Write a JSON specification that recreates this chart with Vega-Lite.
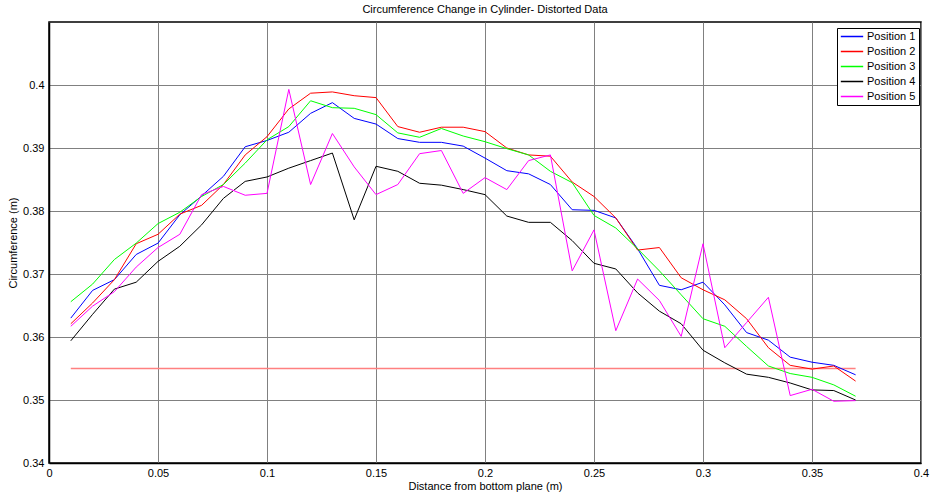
{
  "$schema": "https://vega.github.io/schema/vega-lite/v6.json",
  "width": 872,
  "height": 441,
  "autosize": {"type": "none"},
  "padding": {"left": 49, "top": 22, "right": 10, "bottom": 32},
  "background": "white",
  "title": {"text": "Circumference Change in Cylinder- Distorted Data", "font": "Liberation Sans", "fontSize": 11, "fontWeight": "normal", "color": "#000", "offset": 7, "anchor": "middle"},
  "config": {
    "view": {"stroke": "#000", "strokeWidth": 1.5},
    "font": "Liberation Sans",
    "axis": {"domainColor": "#000", "domainWidth": 1.5, "gridColor": "#808080", "gridOpacity": 1, "gridWidth": 1, "ticks": false, "labelFont": "Liberation Sans", "labelFontSize": 11, "labelColor": "#000", "titleFont": "Liberation Sans", "titleFontSize": 11, "titleFontWeight": "normal", "titleColor": "#000"},
    "legend": {"orient": "none", "legendX": 788, "legendY": 6, "fillColor": "white", "strokeColor": "#000", "strokeWidth": 1, "cornerRadius": 0, "padding": 3, "symbolType": "stroke", "symbolSize": 500, "symbolStrokeWidth": 1.5, "clipHeight": 11, "rowPadding": 3, "labelFont": "Liberation Sans", "labelFontSize": 11, "labelColor": "#000", "labelOffset": 3}
  },
  "datasets": {
    "ref": [{"d": 0.01, "c": 0.355}, {"d": 0.37, "c": 0.355}],
    "series": [
      {"p":"Position 1","d":0.01,"c":0.3630},{"p":"Position 1","d":0.02,"c":0.3674},{"p":"Position 1","d":0.03,"c":0.3691},{"p":"Position 1","d":0.04,"c":0.3731},{"p":"Position 1","d":0.05,"c":0.3749},{"p":"Position 1","d":0.06,"c":0.3794},{"p":"Position 1","d":0.07,"c":0.3824},{"p":"Position 1","d":0.08,"c":0.3855},{"p":"Position 1","d":0.09,"c":0.3902},{"p":"Position 1","d":0.10,"c":0.3912},{"p":"Position 1","d":0.11,"c":0.3925},{"p":"Position 1","d":0.12,"c":0.3955},{"p":"Position 1","d":0.13,"c":0.3972},{"p":"Position 1","d":0.14,"c":0.3947},{"p":"Position 1","d":0.15,"c":0.3938},{"p":"Position 1","d":0.16,"c":0.3915},{"p":"Position 1","d":0.17,"c":0.3909},{"p":"Position 1","d":0.18,"c":0.3909},{"p":"Position 1","d":0.19,"c":0.3903},{"p":"Position 1","d":0.20,"c":0.3884},{"p":"Position 1","d":0.21,"c":0.3864},{"p":"Position 1","d":0.22,"c":0.3859},{"p":"Position 1","d":0.23,"c":0.3842},{"p":"Position 1","d":0.24,"c":0.3802},{"p":"Position 1","d":0.25,"c":0.3801},{"p":"Position 1","d":0.26,"c":0.3789},{"p":"Position 1","d":0.27,"c":0.3740},{"p":"Position 1","d":0.28,"c":0.3682},{"p":"Position 1","d":0.29,"c":0.3675},{"p":"Position 1","d":0.30,"c":0.3687},{"p":"Position 1","d":0.31,"c":0.3651},{"p":"Position 1","d":0.32,"c":0.3607},{"p":"Position 1","d":0.33,"c":0.3595},{"p":"Position 1","d":0.34,"c":0.3568},{"p":"Position 1","d":0.35,"c":0.3560},{"p":"Position 1","d":0.36,"c":0.3555},{"p":"Position 1","d":0.37,"c":0.3540},
      {"p":"Position 2","d":0.01,"c":0.3621},{"p":"Position 2","d":0.02,"c":0.3654},{"p":"Position 2","d":0.03,"c":0.3691},{"p":"Position 2","d":0.04,"c":0.3748},{"p":"Position 2","d":0.05,"c":0.3763},{"p":"Position 2","d":0.06,"c":0.3795},{"p":"Position 2","d":0.07,"c":0.3809},{"p":"Position 2","d":0.08,"c":0.3842},{"p":"Position 2","d":0.09,"c":0.3889},{"p":"Position 2","d":0.10,"c":0.3918},{"p":"Position 2","d":0.11,"c":0.3962},{"p":"Position 2","d":0.12,"c":0.3987},{"p":"Position 2","d":0.13,"c":0.3989},{"p":"Position 2","d":0.14,"c":0.3983},{"p":"Position 2","d":0.15,"c":0.3980},{"p":"Position 2","d":0.16,"c":0.3934},{"p":"Position 2","d":0.17,"c":0.3925},{"p":"Position 2","d":0.18,"c":0.3933},{"p":"Position 2","d":0.19,"c":0.3933},{"p":"Position 2","d":0.20,"c":0.3926},{"p":"Position 2","d":0.21,"c":0.3900},{"p":"Position 2","d":0.22,"c":0.3889},{"p":"Position 2","d":0.23,"c":0.3887},{"p":"Position 2","d":0.24,"c":0.3846},{"p":"Position 2","d":0.25,"c":0.3823},{"p":"Position 2","d":0.26,"c":0.3789},{"p":"Position 2","d":0.27,"c":0.3738},{"p":"Position 2","d":0.28,"c":0.3742},{"p":"Position 2","d":0.29,"c":0.3694},{"p":"Position 2","d":0.30,"c":0.3675},{"p":"Position 2","d":0.31,"c":0.3659},{"p":"Position 2","d":0.32,"c":0.3629},{"p":"Position 2","d":0.33,"c":0.3583},{"p":"Position 2","d":0.34,"c":0.3555},{"p":"Position 2","d":0.35,"c":0.3549},{"p":"Position 2","d":0.36,"c":0.3554},{"p":"Position 2","d":0.37,"c":0.3530},
      {"p":"Position 3","d":0.01,"c":0.3656},{"p":"Position 3","d":0.02,"c":0.3684},{"p":"Position 3","d":0.03,"c":0.3723},{"p":"Position 3","d":0.04,"c":0.3749},{"p":"Position 3","d":0.05,"c":0.3780},{"p":"Position 3","d":0.06,"c":0.3798},{"p":"Position 3","d":0.07,"c":0.3823},{"p":"Position 3","d":0.08,"c":0.3842},{"p":"Position 3","d":0.09,"c":0.3876},{"p":"Position 3","d":0.10,"c":0.3913},{"p":"Position 3","d":0.11,"c":0.3934},{"p":"Position 3","d":0.12,"c":0.3975},{"p":"Position 3","d":0.13,"c":0.3964},{"p":"Position 3","d":0.14,"c":0.3963},{"p":"Position 3","d":0.15,"c":0.3953},{"p":"Position 3","d":0.16,"c":0.3924},{"p":"Position 3","d":0.17,"c":0.3917},{"p":"Position 3","d":0.18,"c":0.3931},{"p":"Position 3","d":0.19,"c":0.3919},{"p":"Position 3","d":0.20,"c":0.3910},{"p":"Position 3","d":0.21,"c":0.3899},{"p":"Position 3","d":0.22,"c":0.3889},{"p":"Position 3","d":0.23,"c":0.3863},{"p":"Position 3","d":0.24,"c":0.3845},{"p":"Position 3","d":0.25,"c":0.3793},{"p":"Position 3","d":0.26,"c":0.3773},{"p":"Position 3","d":0.27,"c":0.3740},{"p":"Position 3","d":0.28,"c":0.3705},{"p":"Position 3","d":0.29,"c":0.3667},{"p":"Position 3","d":0.30,"c":0.3629},{"p":"Position 3","d":0.31,"c":0.3617},{"p":"Position 3","d":0.32,"c":0.3585},{"p":"Position 3","d":0.33,"c":0.3554},{"p":"Position 3","d":0.34,"c":0.3542},{"p":"Position 3","d":0.35,"c":0.3536},{"p":"Position 3","d":0.36,"c":0.3524},{"p":"Position 3","d":0.37,"c":0.3506},
      {"p":"Position 4","d":0.01,"c":0.3594},{"p":"Position 4","d":0.02,"c":0.3636},{"p":"Position 4","d":0.03,"c":0.3676},{"p":"Position 4","d":0.04,"c":0.3687},{"p":"Position 4","d":0.05,"c":0.3720},{"p":"Position 4","d":0.06,"c":0.3744},{"p":"Position 4","d":0.07,"c":0.3778},{"p":"Position 4","d":0.08,"c":0.3820},{"p":"Position 4","d":0.09,"c":0.3847},{"p":"Position 4","d":0.10,"c":0.3854},{"p":"Position 4","d":0.11,"c":0.3868},{"p":"Position 4","d":0.12,"c":0.3880},{"p":"Position 4","d":0.13,"c":0.3892},{"p":"Position 4","d":0.14,"c":0.3786},{"p":"Position 4","d":0.15,"c":0.3871},{"p":"Position 4","d":0.16,"c":0.3863},{"p":"Position 4","d":0.17,"c":0.3844},{"p":"Position 4","d":0.18,"c":0.3841},{"p":"Position 4","d":0.19,"c":0.3834},{"p":"Position 4","d":0.20,"c":0.3826},{"p":"Position 4","d":0.21,"c":0.3792},{"p":"Position 4","d":0.22,"c":0.3782},{"p":"Position 4","d":0.23,"c":0.3782},{"p":"Position 4","d":0.24,"c":0.3753},{"p":"Position 4","d":0.25,"c":0.3717},{"p":"Position 4","d":0.26,"c":0.3708},{"p":"Position 4","d":0.27,"c":0.3670},{"p":"Position 4","d":0.28,"c":0.3641},{"p":"Position 4","d":0.29,"c":0.3621},{"p":"Position 4","d":0.30,"c":0.3579},{"p":"Position 4","d":0.31,"c":0.3559},{"p":"Position 4","d":0.32,"c":0.3541},{"p":"Position 4","d":0.33,"c":0.3536},{"p":"Position 4","d":0.34,"c":0.3527},{"p":"Position 4","d":0.35,"c":0.3516},{"p":"Position 4","d":0.36,"c":0.3515},{"p":"Position 4","d":0.37,"c":0.3500},
      {"p":"Position 5","d":0.01,"c":0.3617},{"p":"Position 5","d":0.02,"c":0.3649},{"p":"Position 5","d":0.03,"c":0.3672},{"p":"Position 5","d":0.04,"c":0.3711},{"p":"Position 5","d":0.05,"c":0.3742},{"p":"Position 5","d":0.06,"c":0.3763},{"p":"Position 5","d":0.07,"c":0.3826},{"p":"Position 5","d":0.08,"c":0.3839},{"p":"Position 5","d":0.09,"c":0.3825},{"p":"Position 5","d":0.10,"c":0.3828},{"p":"Position 5","d":0.11,"c":0.3993},{"p":"Position 5","d":0.12,"c":0.3842},{"p":"Position 5","d":0.13,"c":0.3923},{"p":"Position 5","d":0.14,"c":0.3870},{"p":"Position 5","d":0.15,"c":0.3826},{"p":"Position 5","d":0.16,"c":0.3842},{"p":"Position 5","d":0.17,"c":0.3891},{"p":"Position 5","d":0.18,"c":0.3896},{"p":"Position 5","d":0.19,"c":0.3828},{"p":"Position 5","d":0.20,"c":0.3853},{"p":"Position 5","d":0.21,"c":0.3834},{"p":"Position 5","d":0.22,"c":0.3880},{"p":"Position 5","d":0.23,"c":0.3889},{"p":"Position 5","d":0.24,"c":0.3705},{"p":"Position 5","d":0.25,"c":0.3770},{"p":"Position 5","d":0.26,"c":0.3610},{"p":"Position 5","d":0.27,"c":0.3692},{"p":"Position 5","d":0.28,"c":0.3658},{"p":"Position 5","d":0.29,"c":0.3601},{"p":"Position 5","d":0.30,"c":0.3748},{"p":"Position 5","d":0.31,"c":0.3583},{"p":"Position 5","d":0.32,"c":0.3623},{"p":"Position 5","d":0.33,"c":0.3663},{"p":"Position 5","d":0.34,"c":0.3507},{"p":"Position 5","d":0.35,"c":0.3517},{"p":"Position 5","d":0.36,"c":0.3498},{"p":"Position 5","d":0.37,"c":0.3499}
    ]
  },
  "encoding": {
    "x": {"field": "d", "type": "quantitative", "scale": {"domain": [0, 0.4], "zero": false, "nice": false}, "axis": {"title": "Distance from bottom plane (m)", "values": [0, 0.05, 0.1, 0.15, 0.2, 0.25, 0.3, 0.35, 0.4], "format": "~g", "labelPadding": 4, "titlePadding": 2, "labelFlush": false}},
    "y": {"field": "c", "type": "quantitative", "scale": {"domain": [0.34, 0.41], "zero": false, "nice": false}, "axis": {"title": "Circumference (m)", "values": [0.34, 0.35, 0.36, 0.37, 0.38, 0.39, 0.4], "format": "~g", "labelPadding": 5, "titlePadding": 4, "labelFlush": false}}
  },
  "layer": [
    {"data": {"name": "ref"}, "mark": {"type": "line", "color": "#ff8080", "strokeWidth": 1.5}},
    {"data": {"name": "series"}, "mark": {"type": "line", "strokeWidth": 1}, "encoding": {"color": {"field": "p", "type": "nominal", "scale": {"domain": ["Position 1", "Position 2", "Position 3", "Position 4", "Position 5"], "range": ["#0000ff", "#ff0000", "#00ff00", "#000000", "#ff00ff"]}, "legend": {"title": null}}}}
  ]
}
